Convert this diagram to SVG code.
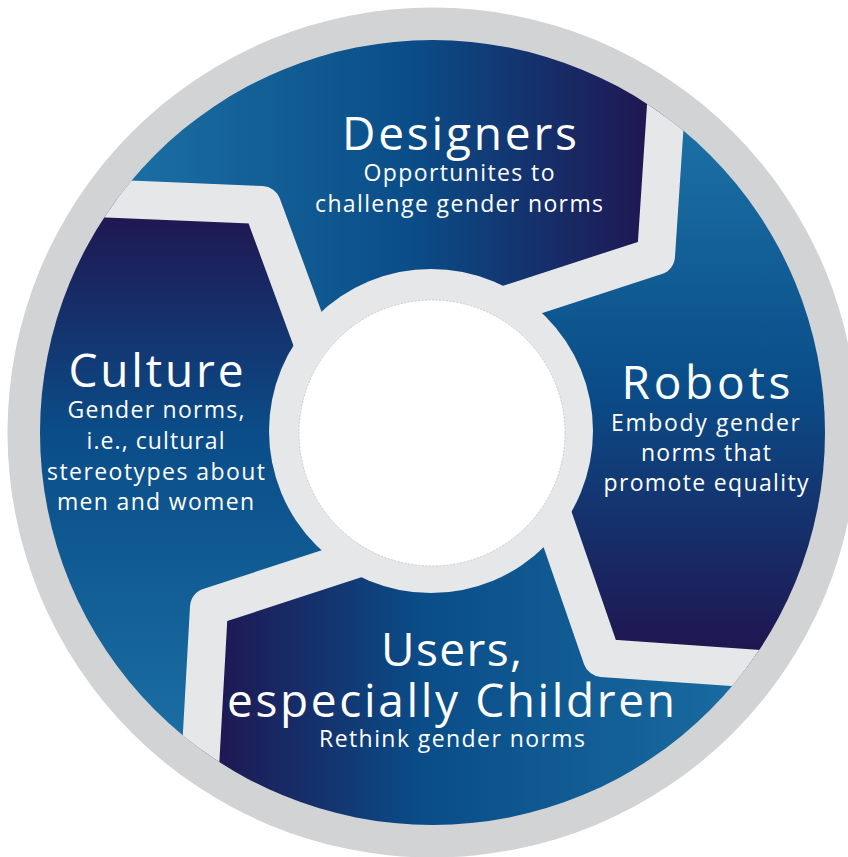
<svg xmlns="http://www.w3.org/2000/svg" width="848" height="857" viewBox="0 0 848 857">
  <defs>
    <clipPath id="disc"><circle cx="432.5" cy="432.5" r="392.5"/></clipPath>
    <linearGradient id="gDes" gradientUnits="userSpaceOnUse" x1="120" y1="0" x2="650" y2="0">
      <stop offset="0" stop-color="#1b70a4"/>
      <stop offset="0.55" stop-color="#0a4d88"/>
      <stop offset="1" stop-color="#1f1752"/>
    </linearGradient>
    <linearGradient id="gRob" gradientUnits="userSpaceOnUse" x1="0" y1="130" x2="0" y2="645">
      <stop offset="0" stop-color="#1b70a4"/>
      <stop offset="0.5" stop-color="#0a4d88"/>
      <stop offset="1" stop-color="#1f1752"/>
    </linearGradient>
    <linearGradient id="gUse" gradientUnits="userSpaceOnUse" x1="215" y1="0" x2="790" y2="0">
      <stop offset="0" stop-color="#1f1752"/>
      <stop offset="0.36" stop-color="#0a4d88"/>
      <stop offset="1" stop-color="#1b70a4"/>
    </linearGradient>
    <linearGradient id="gCul" gradientUnits="userSpaceOnUse" x1="0" y1="215" x2="0" y2="760">
      <stop offset="0" stop-color="#1f1752"/>
      <stop offset="0.4" stop-color="#0a4d88"/>
      <stop offset="1" stop-color="#1b70a4"/>
    </linearGradient>
  </defs>
  <style>
    .band{fill:none;stroke:#e6e7e8;stroke-width:38;stroke-linejoin:round;stroke-linecap:butt}
    .title{font-family:"Open Sans","Liberation Sans",sans-serif;font-size:46px;fill:#ffffff;text-anchor:middle}
    .sub{font-family:"Open Sans","Liberation Sans",sans-serif;font-size:23px;fill:#ffffff;text-anchor:middle}
  </style>

  <rect width="848" height="857" fill="#ffffff"/>
  <circle cx="432.5" cy="432.5" r="425" fill="#d1d3d4"/>

  <g clip-path="url(#disc)">
    <g id="designers-area"><polygon fill="url(#gDes)" points="432,430 327.7,383.6 262,205 0,194 0,0 673,0 656,256 460.5,319.6"/></g>
    <g id="robots-area"><polygon fill="url(#gRob)" points="432,430 460.5,319.6 656,256 673,0 848,0 848,675 602,658 538.3,473.7"/></g>
    <g id="users-area"><polygon fill="url(#gUse)" points="432,430 538.3,473.7 602,658 848,675 848,857 195,857 209,607 401.4,544.2"/></g>
    <g id="culture-area"><polygon fill="url(#gCul)" points="432,430 401.4,544.2 209,607 195,857 0,857 0,194 262,205 327.7,383.6"/></g>
    <g id="connectors">
      <polyline class="band" points="460.5,319.6 656,256 673,0"/>
      <polyline class="band" points="327.7,383.6 262,205 0,194"/>
      <polyline class="band" points="401.4,544.2 209,607 195,857"/>
      <polyline class="band" points="538.3,473.7 602,658 848,675"/>
    </g>
  </g>

  <g id="hub">
    <circle cx="431" cy="431" r="162" fill="#e6e7e8"/>
    <circle cx="432" cy="433" r="133" fill="#ffffff" stroke="#c4c4c4" stroke-width="0.8" stroke-dasharray="2 1.5"/>
  </g>

  <g id="designers">
    <text class="title" x="459.5" y="150" textLength="235" lengthAdjust="spacing">Designers</text>
    <text class="sub" x="459" y="181" textLength="191" lengthAdjust="spacing">Opportunites to</text>
    <text class="sub" x="459" y="212" textLength="288" lengthAdjust="spacing">challenge gender norms</text>
  </g>

  <g id="culture">
    <text class="title" x="156" y="387" textLength="175" lengthAdjust="spacing">Culture</text>
    <text class="sub" x="156" y="417.5" textLength="177" lengthAdjust="spacing">Gender norms,</text>
    <text class="sub" x="155.5" y="449" textLength="138" lengthAdjust="spacing">i.e., cultural</text>
    <text class="sub" x="156" y="480" textLength="218" lengthAdjust="spacing">stereotypes about</text>
    <text class="sub" x="155.5" y="510" textLength="197" lengthAdjust="spacing">men and women</text>
  </g>

  <g id="robots">
    <text class="title" x="706" y="399" textLength="169" lengthAdjust="spacing">Robots</text>
    <text class="sub" x="705.5" y="431" textLength="189" lengthAdjust="spacing">Embody gender</text>
    <text class="sub" x="706" y="461" textLength="130" lengthAdjust="spacing">norms that</text>
    <text class="sub" x="706" y="491" textLength="205" lengthAdjust="spacing">promote equality</text>
  </g>

  <g id="users">
    <text class="title" x="451.5" y="666" textLength="141" lengthAdjust="spacing">Users,</text>
    <text class="title" x="451" y="717" textLength="448" lengthAdjust="spacing">especially Children</text>
    <text class="sub" x="452" y="747" textLength="266" lengthAdjust="spacing">Rethink gender norms</text>
  </g>
</svg>
